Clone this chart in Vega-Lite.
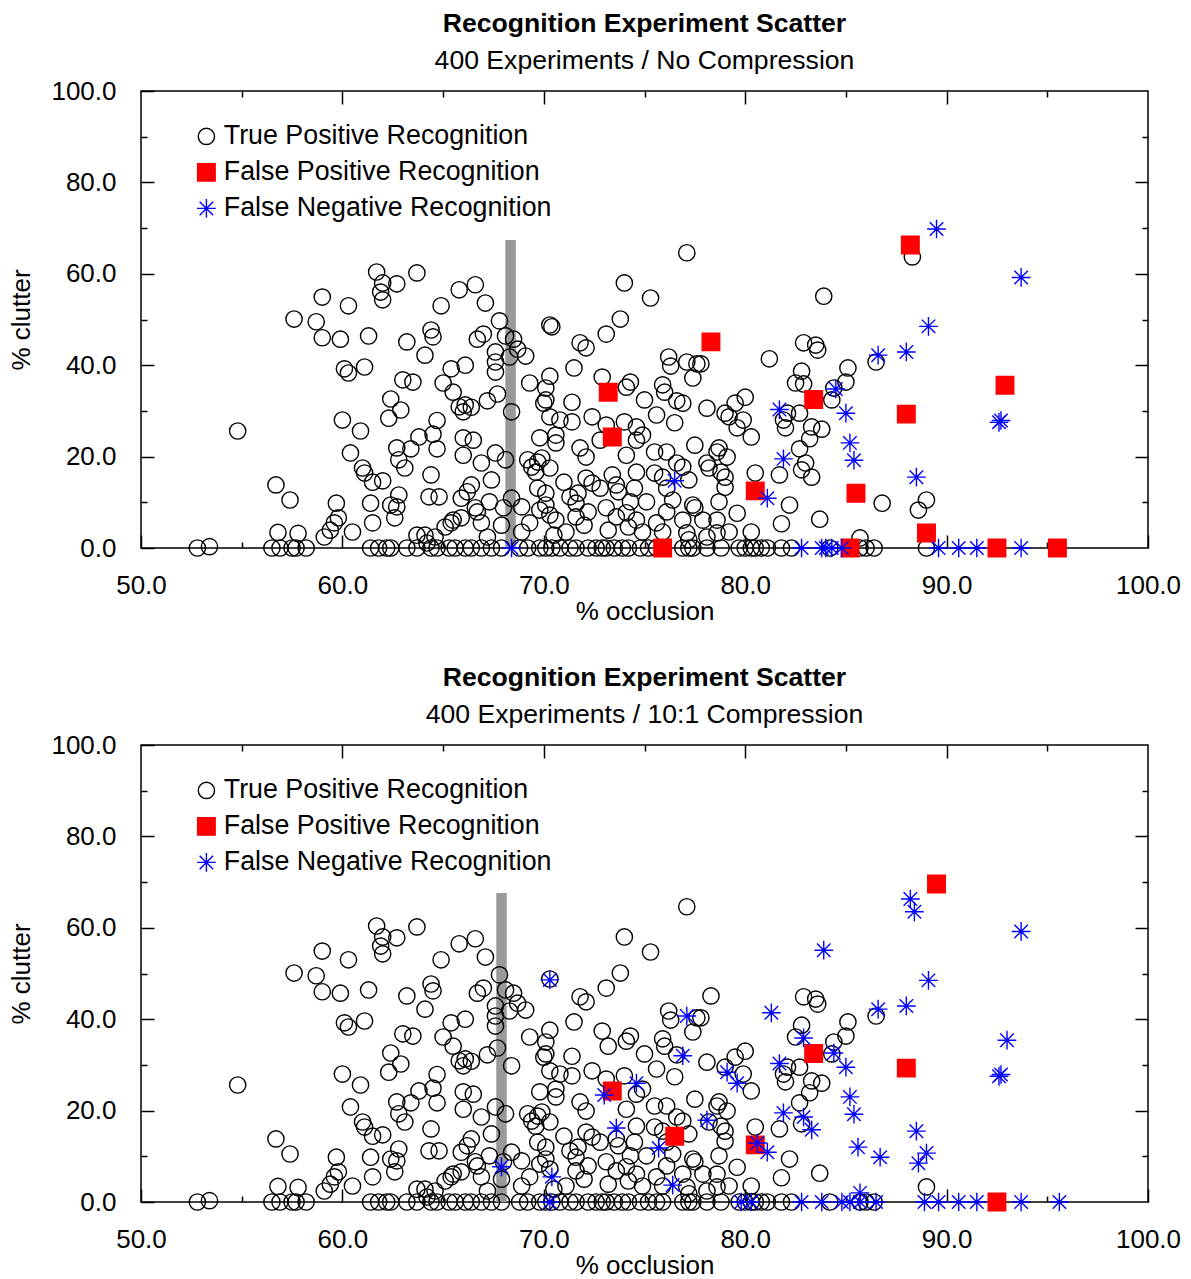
{
"$schema":"https://vega.github.io/schema/vega-lite/v6.json",
"padding":{"left":8,"top":10,"right":5,"bottom":0},
"background":"white",
"datasets":{
"bars":[{"p":"t","x":68.35,"y":0,"y2":67.4},{"p":"u","x":67.9,"y":0,"y2":67.6}],
"pts":[
{"x":52.8,"y":0,"t":"TP","p":"b"},{"x":53.4,"y":0.3,"t":"TP","p":"b"},{"x":54.8,"y":25.6,"t":"TP","p":"b"},{"x":56.7,"y":13.8,"t":"TP","p":"b"},{"x":57.4,"y":10.5,"t":"TP","p":"b"},{"x":56.8,"y":3.4,"t":"TP","p":"b"},{"x":57.8,"y":3.2,"t":"TP","p":"b"},{"x":56.5,"y":0,"t":"TP","p":"b"},{"x":56.9,"y":0,"t":"TP","p":"b"},{"x":57.5,"y":0,"t":"TP","p":"b"},{"x":57.7,"y":0,"t":"TP","p":"b"},{"x":58.2,"y":0,"t":"TP","p":"b"},
{"x":59.1,"y":2.4,"t":"TP","p":"b"},{"x":59.4,"y":3.9,"t":"TP","p":"b"},{"x":59.6,"y":5.5,"t":"TP","p":"b"},{"x":59.8,"y":6.6,"t":"TP","p":"b"},{"x":59.7,"y":9.8,"t":"TP","p":"b"},{"x":60.5,"y":3.5,"t":"TP","p":"b"},{"x":60.4,"y":20.8,"t":"TP","p":"b"},{"x":61.0,"y":17.5,"t":"TP","p":"b"},{"x":61.1,"y":16.4,"t":"TP","p":"b"},{"x":61.5,"y":14.4,"t":"TP","p":"b"},{"x":62.0,"y":14.7,"t":"TP","p":"b"},{"x":61.4,"y":9.8,"t":"TP","p":"b"},{"x":61.5,"y":5.5,"t":"TP","p":"b"},{"x":62.4,"y":9.4,"t":"TP","p":"b"},{"x":62.7,"y":9.0,"t":"TP","p":"b"},{"x":62.6,"y":6.6,"t":"TP","p":"b"},{"x":62.8,"y":11.6,"t":"TP","p":"b"},
{"x":62.7,"y":21.9,"t":"TP","p":"b"},{"x":63.4,"y":21.7,"t":"TP","p":"b"},{"x":62.8,"y":19.3,"t":"TP","p":"b"},{"x":63.1,"y":17.5,"t":"TP","p":"b"},{"x":63.8,"y":24.3,"t":"TP","p":"b"},{"x":64.5,"y":24.9,"t":"TP","p":"b"},{"x":64.7,"y":21.7,"t":"TP","p":"b"},{"x":64.4,"y":16.0,"t":"TP","p":"b"},{"x":64.3,"y":11.2,"t":"TP","p":"b"},{"x":64.8,"y":11.2,"t":"TP","p":"b"},{"x":63.7,"y":2.8,"t":"TP","p":"b"},{"x":64.1,"y":2.8,"t":"TP","p":"b"},{"x":64.6,"y":2.4,"t":"TP","p":"b"},{"x":65.1,"y":4.6,"t":"TP","p":"b"},{"x":65.5,"y":6.1,"t":"TP","p":"b"},
{"x":61.4,"y":0,"t":"TP","p":"b"},{"x":61.8,"y":0,"t":"TP","p":"b"},{"x":62.2,"y":0,"t":"TP","p":"b"},{"x":62.4,"y":0,"t":"TP","p":"b"},{"x":63.2,"y":0,"t":"TP","p":"b"},{"x":63.7,"y":0,"t":"TP","p":"b"},{"x":64.2,"y":1.1,"t":"TP","p":"b"},{"x":64.4,"y":0,"t":"TP","p":"b"},{"x":64.7,"y":0,"t":"TP","p":"b"},{"x":65.3,"y":0,"t":"TP","p":"b"},{"x":65.6,"y":0,"t":"TP","p":"b"},
{"x":60.0,"y":28.0,"t":"TP","p":"b"},{"x":60.9,"y":25.6,"t":"TP","p":"b"},{"x":62.3,"y":28.4,"t":"TP","p":"b"},{"x":62.9,"y":30.2,"t":"TP","p":"b"},{"x":64.7,"y":27.9,"t":"TP","p":"b"},{"x":65.8,"y":30.9,"t":"TP","p":"b"},
{"x":61.7,"y":60.4,"t":"TP","p":"b"},{"x":62.0,"y":58.0,"t":"TP","p":"b"},{"x":62.7,"y":57.8,"t":"TP","p":"b"},{"x":61.9,"y":56.0,"t":"TP","p":"b"},{"x":62.0,"y":54.3,"t":"TP","p":"b"},{"x":63.7,"y":60.2,"t":"TP","p":"b"},{"x":59.0,"y":54.9,"t":"TP","p":"b"},{"x":60.3,"y":53.0,"t":"TP","p":"b"},{"x":57.6,"y":50.1,"t":"TP","p":"b"},{"x":58.7,"y":49.5,"t":"TP","p":"b"},{"x":59.0,"y":46.0,"t":"TP","p":"b"},{"x":59.9,"y":45.7,"t":"TP","p":"b"},{"x":61.3,"y":46.4,"t":"TP","p":"b"},{"x":63.2,"y":45.1,"t":"TP","p":"b"},{"x":64.1,"y":42.2,"t":"TP","p":"b"},{"x":64.4,"y":47.7,"t":"TP","p":"b"},{"x":64.5,"y":46.2,"t":"TP","p":"b"},{"x":64.9,"y":53.0,"t":"TP","p":"b"},{"x":65.8,"y":56.5,"t":"TP","p":"b"},
{"x":60.1,"y":39.2,"t":"TP","p":"b"},{"x":60.3,"y":38.3,"t":"TP","p":"b"},{"x":61.1,"y":39.6,"t":"TP","p":"b"},{"x":63.0,"y":36.8,"t":"TP","p":"b"},{"x":63.5,"y":36.3,"t":"TP","p":"b"},{"x":65.4,"y":39.2,"t":"TP","p":"b"},{"x":65.0,"y":36.1,"t":"TP","p":"b"},{"x":65.5,"y":34.1,"t":"TP","p":"b"},{"x":62.4,"y":32.6,"t":"TP","p":"b"},
{"x":77.1,"y":64.6,"t":"TP","p":"b"},{"x":74.0,"y":58.0,"t":"TP","p":"b"},{"x":75.3,"y":54.7,"t":"TP","p":"b"},{"x":66.6,"y":57.6,"t":"TP","p":"b"},{"x":67.1,"y":53.6,"t":"TP","p":"b"},{"x":67.8,"y":49.7,"t":"TP","p":"b"},{"x":70.3,"y":48.8,"t":"TP","p":"b"},{"x":70.4,"y":48.4,"t":"TP","p":"t"},{"x":66.7,"y":45.7,"t":"TP","p":"b"},{"x":67.0,"y":46.8,"t":"TP","p":"b"},{"x":68.1,"y":46.4,"t":"TP","p":"b"},{"x":68.5,"y":45.7,"t":"TP","p":"b"},{"x":67.6,"y":42.9,"t":"TP","p":"b"},{"x":68.7,"y":43.5,"t":"TP","p":"b"},{"x":69.1,"y":42.0,"t":"TP","p":"b"},{"x":68.3,"y":41.8,"t":"TP","p":"b"},{"x":67.6,"y":40.7,"t":"TP","p":"b"},{"x":67.6,"y":38.5,"t":"TP","p":"b"},{"x":66.1,"y":40.0,"t":"TP","p":"b"},{"x":66.1,"y":31.3,"t":"TP","p":"b"},{"x":66.4,"y":30.8,"t":"TP","p":"b"},{"x":67.2,"y":32.2,"t":"TP","p":"b"},{"x":67.7,"y":33.7,"t":"TP","p":"b"},{"x":68.4,"y":29.8,"t":"TP","p":"b"},{"x":69.3,"y":36.1,"t":"TP","p":"b"},{"x":70.3,"y":37.6,"t":"TP","p":"b"},{"x":70.1,"y":35.0,"t":"TP","p":"b"},{"x":70.1,"y":32.4,"t":"TP","p":"b"},{"x":70.0,"y":31.7,"t":"TP","p":"b"},{"x":71.4,"y":31.9,"t":"TP","p":"b"},{"x":71.5,"y":39.4,"t":"TP","p":"b"},{"x":71.8,"y":44.9,"t":"TP","p":"b"},{"x":72.1,"y":43.8,"t":"TP","p":"b"},{"x":73.1,"y":46.8,"t":"TP","p":"b"},{"x":73.8,"y":50.1,"t":"TP","p":"b"},{"x":72.9,"y":37.4,"t":"TP","p":"b"},{"x":74.3,"y":36.3,"t":"TP","p":"b"},{"x":74.1,"y":35.2,"t":"TP","p":"b"},{"x":75.0,"y":32.4,"t":"TP","p":"b"},{"x":75.9,"y":35.7,"t":"TP","p":"b"},{"x":76.0,"y":34.1,"t":"TP","p":"b"},{"x":76.2,"y":41.8,"t":"TP","p":"b"},{"x":76.3,"y":39.8,"t":"TP","p":"b"},{"x":77.1,"y":40.7,"t":"TP","p":"t"},{"x":77.6,"y":40.3,"t":"TP","p":"b"},{"x":77.8,"y":40.3,"t":"TP","p":"b"},{"x":77.4,"y":37.2,"t":"TP","p":"b"},{"x":76.6,"y":32.2,"t":"TP","p":"b"},{"x":76.9,"y":31.7,"t":"TP","p":"t"},{"x":78.1,"y":30.6,"t":"TP","p":"b"},{"x":79.0,"y":29.5,"t":"TP","p":"b"},{"x":75.6,"y":29.1,"t":"TP","p":"b"},{"x":72.4,"y":28.7,"t":"TP","p":"b"},
{"x":66.0,"y":29.8,"t":"TP","p":"b"},{"x":70.3,"y":28.7,"t":"TP","p":"b"},{"x":70.8,"y":28.0,"t":"TP","p":"b"},{"x":71.4,"y":27.6,"t":"TP","p":"b"},{"x":73.1,"y":26.9,"t":"TP","p":"b"},{"x":74.0,"y":27.6,"t":"TP","p":"b"},{"x":74.6,"y":26.5,"t":"TP","p":"t"},{"x":76.5,"y":27.4,"t":"TP","p":"b"},{"x":66.0,"y":24.1,"t":"TP","p":"b"},{"x":66.5,"y":23.6,"t":"TP","p":"b"},{"x":69.8,"y":24.1,"t":"TP","p":"b"},{"x":70.6,"y":24.7,"t":"TP","p":"b"},{"x":70.6,"y":23.0,"t":"TP","p":"b"},{"x":71.8,"y":21.9,"t":"TP","p":"b"},{"x":72.1,"y":19.9,"t":"TP","p":"b"},{"x":72.8,"y":23.6,"t":"TP","p":"t"},{"x":74.6,"y":23.6,"t":"TP","p":"b"},{"x":74.9,"y":24.7,"t":"TP","p":"b"},{"x":74.1,"y":20.3,"t":"TP","p":"b"},{"x":77.5,"y":22.5,"t":"TP","p":"b"},{"x":78.6,"y":21.0,"t":"TP","p":"b"},{"x":78.7,"y":21.9,"t":"TP","p":"b"},{"x":75.5,"y":21.0,"t":"TP","p":"b"},{"x":76.1,"y":21.0,"t":"TP","p":"b"},{"x":76.6,"y":18.6,"t":"TP","p":"b"},{"x":76.9,"y":17.7,"t":"TP","p":"b"},{"x":78.1,"y":18.6,"t":"TP","p":"t"},{"x":78.2,"y":17.5,"t":"TP","p":"b"},{"x":79.1,"y":19.9,"t":"TP","p":"b"},{"x":79.0,"y":15.5,"t":"TP","p":"b"},
{"x":66.0,"y":20.3,"t":"TP","p":"b"},{"x":66.9,"y":18.6,"t":"TP","p":"b"},{"x":67.6,"y":20.8,"t":"TP","p":"b"},{"x":68.1,"y":19.3,"t":"TP","p":"b"},{"x":69.2,"y":19.3,"t":"TP","p":"b"},{"x":69.4,"y":17.7,"t":"TP","p":"b"},{"x":69.7,"y":18.8,"t":"TP","p":"b"},{"x":69.9,"y":19.7,"t":"TP","p":"b"},{"x":69.6,"y":16.6,"t":"TP","p":"b"},{"x":70.3,"y":17.5,"t":"TP","p":"b"},{"x":71.0,"y":14.4,"t":"TP","p":"b"},{"x":71.7,"y":12.0,"t":"TP","p":"b"},{"x":72.1,"y":15.3,"t":"TP","p":"b"},{"x":72.4,"y":14.2,"t":"TP","p":"b"},{"x":72.8,"y":13.1,"t":"TP","p":"b"},{"x":73.4,"y":16.0,"t":"TP","p":"t"},{"x":74.6,"y":16.6,"t":"TP","p":"b"},{"x":74.5,"y":13.1,"t":"TP","p":"b"},{"x":73.7,"y":12.3,"t":"TP","p":"b"},{"x":73.6,"y":13.8,"t":"TP","p":"b"},{"x":75.5,"y":16.4,"t":"TP","p":"b"},{"x":75.9,"y":15.5,"t":"TP","p":"b"},{"x":77.2,"y":14.9,"t":"TP","p":"b"},{"x":77.5,"y":8.8,"t":"TP","p":"b"},{"x":77.9,"y":6.1,"t":"TP","p":"b"},{"x":78.6,"y":6.1,"t":"TP","p":"b"},{"x":78.1,"y":2.4,"t":"TP","p":"b"},{"x":77.1,"y":3.3,"t":"TP","p":"b"},{"x":77.2,"y":1.8,"t":"TP","p":"b"},
{"x":66.4,"y":13.8,"t":"TP","p":"b"},{"x":66.2,"y":12.3,"t":"TP","p":"b"},{"x":65.9,"y":10.9,"t":"TP","p":"b"},{"x":67.4,"y":14.9,"t":"TP","p":"b"},{"x":67.3,"y":10.1,"t":"TP","p":"b"},{"x":66.6,"y":8.8,"t":"TP","p":"b"},{"x":66.7,"y":7.9,"t":"TP","p":"b"},{"x":65.9,"y":6.6,"t":"TP","p":"b"},{"x":65.4,"y":5.5,"t":"TP","p":"b"},{"x":66.9,"y":5.5,"t":"TP","p":"b"},{"x":68.0,"y":8.8,"t":"TP","p":"b"},{"x":68.4,"y":10.9,"t":"TP","p":"b"},{"x":67.9,"y":5.0,"t":"TP","p":"b"},{"x":67.2,"y":2.4,"t":"TP","p":"b"},
{"x":68.9,"y":9.0,"t":"TP","p":"b"},{"x":69.3,"y":5.5,"t":"TP","p":"b"},{"x":69.8,"y":8.3,"t":"TP","p":"b"},{"x":70.1,"y":9.4,"t":"TP","p":"b"},{"x":70.3,"y":7.2,"t":"TP","p":"b"},{"x":70.6,"y":6.1,"t":"TP","p":"t"},{"x":70.1,"y":12.0,"t":"TP","p":"b"},{"x":69.7,"y":13.1,"t":"TP","p":"b"},{"x":71.3,"y":11.2,"t":"TP","p":"b"},{"x":71.6,"y":9.8,"t":"TP","p":"b"},{"x":71.6,"y":6.8,"t":"TP","p":"b"},{"x":72.0,"y":5.0,"t":"TP","p":"b"},{"x":72.2,"y":7.9,"t":"TP","p":"b"},{"x":73.1,"y":8.8,"t":"TP","p":"b"},{"x":73.6,"y":6.8,"t":"TP","p":"b"},{"x":74.1,"y":7.7,"t":"TP","p":"b"},{"x":74.3,"y":10.1,"t":"TP","p":"b"},{"x":75.1,"y":10.1,"t":"TP","p":"b"},{"x":74.6,"y":6.1,"t":"TP","p":"b"},{"x":74.9,"y":3.5,"t":"TP","p":"b"},{"x":74.2,"y":4.6,"t":"TP","p":"b"},{"x":73.2,"y":3.9,"t":"TP","p":"b"},{"x":75.6,"y":5.5,"t":"TP","p":"b"},{"x":76.1,"y":7.9,"t":"TP","p":"b"},{"x":76.1,"y":13.1,"t":"TP","p":"b"},{"x":76.4,"y":10.5,"t":"TP","p":"b"},{"x":77.4,"y":9.4,"t":"TP","p":"b"},{"x":76.9,"y":6.1,"t":"TP","p":"b"},{"x":75.9,"y":3.5,"t":"TP","p":"b"},{"x":78.6,"y":3.3,"t":"TP","p":"b"},{"x":68.9,"y":3.5,"t":"TP","p":"b"},{"x":71.1,"y":3.5,"t":"TP","p":"b"},{"x":70.5,"y":2.8,"t":"TP","p":"b"},
{"x":66.1,"y":0,"t":"TP","p":"b"},{"x":66.4,"y":0,"t":"TP","p":"b"},{"x":66.9,"y":0,"t":"TP","p":"b"},{"x":67.4,"y":0,"t":"TP","p":"b"},{"x":67.9,"y":0,"t":"TP","p":"b"},{"x":68.8,"y":0,"t":"TP","p":"b"},{"x":69.2,"y":0,"t":"TP","p":"b"},{"x":69.8,"y":0,"t":"TP","p":"b"},{"x":70.1,"y":0,"t":"TP","p":"b"},{"x":70.4,"y":0,"t":"TP","p":"b"},{"x":70.8,"y":0,"t":"TP","p":"b"},{"x":71.3,"y":0,"t":"TP","p":"b"},{"x":71.6,"y":0,"t":"TP","p":"b"},{"x":72.2,"y":0,"t":"TP","p":"b"},{"x":72.6,"y":0,"t":"TP","p":"b"},{"x":72.9,"y":0,"t":"TP","p":"b"},{"x":73.1,"y":0,"t":"TP","p":"b"},{"x":73.5,"y":0,"t":"TP","p":"b"},{"x":73.9,"y":0,"t":"TP","p":"b"},{"x":74.2,"y":0,"t":"TP","p":"b"},{"x":74.8,"y":0,"t":"TP","p":"b"},{"x":75.2,"y":0,"t":"TP","p":"b"},{"x":75.6,"y":0,"t":"TP","p":"b"},{"x":76.9,"y":0,"t":"TP","p":"b"},{"x":77.2,"y":0,"t":"TP","p":"b"},{"x":77.4,"y":0,"t":"TP","p":"b"},{"x":78.1,"y":0,"t":"TP","p":"b"},{"x":78.8,"y":0,"t":"TP","p":"b"},
{"x":88.3,"y":63.7,"t":"TP","p":"t"},{"x":83.9,"y":55.1,"t":"TP","p":"t"},{"x":82.9,"y":44.9,"t":"TP","p":"b"},{"x":83.5,"y":44.4,"t":"TP","p":"b"},{"x":83.6,"y":43.3,"t":"TP","p":"b"},{"x":81.2,"y":41.4,"t":"TP","p":"t"},{"x":85.1,"y":39.4,"t":"TP","p":"b"},{"x":85.0,"y":36.3,"t":"TP","p":"b"},{"x":82.8,"y":38.7,"t":"TP","p":"b"},{"x":82.5,"y":36.1,"t":"TP","p":"b"},{"x":82.9,"y":35.9,"t":"TP","p":"t"},{"x":84.3,"y":32.4,"t":"TP","p":"b"},{"x":84.4,"y":35.0,"t":"TP","p":"b"},{"x":79.5,"y":31.7,"t":"TP","p":"b"},{"x":80.0,"y":33.0,"t":"TP","p":"b"},{"x":79.2,"y":28.7,"t":"TP","p":"t"},{"x":79.9,"y":28.0,"t":"TP","p":"b"},{"x":82.1,"y":29.5,"t":"TP","p":"b"},{"x":82.7,"y":29.5,"t":"TP","p":"b"},{"x":86.5,"y":40.7,"t":"TP","p":"b"},
{"x":79.6,"y":26.3,"t":"TP","p":"t"},{"x":80.3,"y":24.3,"t":"TP","p":"b"},{"x":81.9,"y":28.0,"t":"TP","p":"b"},{"x":82.0,"y":26.3,"t":"TP","p":"b"},{"x":83.3,"y":26.5,"t":"TP","p":"b"},{"x":83.8,"y":26.0,"t":"TP","p":"b"},{"x":83.2,"y":23.9,"t":"TP","p":"b"},{"x":82.7,"y":21.7,"t":"TP","p":"b"},{"x":83.0,"y":18.6,"t":"TP","p":"t"},{"x":82.8,"y":17.1,"t":"TP","p":"b"},{"x":83.3,"y":15.5,"t":"TP","p":"t"},{"x":81.7,"y":16.0,"t":"TP","p":"b"},{"x":80.5,"y":16.4,"t":"TP","p":"b"},{"x":78.8,"y":16.6,"t":"TP","p":"b"},{"x":79.0,"y":13.3,"t":"TP","p":"b"},{"x":78.7,"y":10.1,"t":"TP","p":"b"},{"x":79.6,"y":7.6,"t":"TP","p":"b"},{"x":79.2,"y":3.5,"t":"TP","p":"b"},{"x":80.3,"y":3.5,"t":"TP","p":"b"},{"x":81.8,"y":5.3,"t":"TP","p":"b"},{"x":82.2,"y":9.4,"t":"TP","p":"b"},{"x":83.7,"y":6.3,"t":"TP","p":"b"},{"x":85.7,"y":2.2,"t":"TP","p":"t"},{"x":86.8,"y":9.8,"t":"TP","p":"t"},{"x":88.6,"y":8.3,"t":"TP","p":"t"},{"x":89.0,"y":10.5,"t":"TP","p":"t"},{"x":89.0,"y":0,"t":"TP","p":"t"},
{"x":79.7,"y":0,"t":"TP","p":"b"},{"x":80.0,"y":0,"t":"TP","p":"b"},{"x":80.3,"y":0,"t":"TP","p":"b"},{"x":80.5,"y":0,"t":"TP","p":"b"},{"x":80.8,"y":0,"t":"TP","p":"b"},{"x":81.1,"y":0,"t":"TP","p":"b"},{"x":81.8,"y":0,"t":"TP","p":"b"},{"x":82.3,"y":0,"t":"TP","p":"b"},{"x":84.2,"y":0,"t":"TP","p":"b"},{"x":85.7,"y":0,"t":"TP","p":"b"},{"x":86.0,"y":0,"t":"TP","p":"b"},{"x":86.4,"y":0,"t":"TP","p":"b"},
{"x":73.2,"y":34.1,"t":"TP","p":"u"},{"x":78.3,"y":45.1,"t":"TP","p":"u"},{"x":89.0,"y":3.3,"t":"TP","p":"u"},{"x":75.9,"y":0,"t":"TP","p":"u"},
{"x":73.2,"y":34.1,"t":"FP","p":"t"},{"x":78.3,"y":45.1,"t":"FP","p":"t"},{"x":85.5,"y":12.0,"t":"FP","p":"t"},{"x":88.2,"y":66.3,"t":"FP","p":"t"},{"x":89.0,"y":3.3,"t":"FP","p":"t"},{"x":92.9,"y":35.6,"t":"FP","p":"t"},{"x":75.9,"y":0,"t":"FP","p":"t"},{"x":85.2,"y":0,"t":"FP","p":"t"},{"x":95.5,"y":0,"t":"FP","p":"t"},
{"x":73.4,"y":24.3,"t":"FP","p":"b"},{"x":80.5,"y":12.5,"t":"FP","p":"b"},{"x":83.4,"y":32.5,"t":"FP","p":"b"},{"x":88.0,"y":29.3,"t":"FP","p":"b"},{"x":92.5,"y":0,"t":"FP","p":"b"},
{"x":76.5,"y":14.4,"t":"FP","p":"u"},{"x":89.5,"y":69.6,"t":"FP","p":"u"},
{"x":68.4,"y":0,"t":"FN","p":"t"},{"x":76.5,"y":14.7,"t":"FN","p":"t"},{"x":89.5,"y":69.8,"t":"FN","p":"t"},{"x":84.5,"y":34.8,"t":"FN","p":"t"},{"x":84.0,"y":0,"t":"FN","p":"t"},{"x":84.3,"y":0,"t":"FN","p":"t"},
{"x":81.7,"y":30.3,"t":"FN","p":"b"},{"x":81.9,"y":19.5,"t":"FN","p":"b"},{"x":81.1,"y":10.9,"t":"FN","p":"b"},{"x":85.0,"y":29.5,"t":"FN","p":"b"},{"x":85.2,"y":23.0,"t":"FN","p":"b"},{"x":85.4,"y":19.2,"t":"FN","p":"b"},{"x":86.6,"y":42.2,"t":"FN","p":"b"},{"x":88.0,"y":42.9,"t":"FN","p":"b"},{"x":89.1,"y":48.5,"t":"FN","p":"b"},{"x":93.7,"y":59.2,"t":"FN","p":"b"},{"x":92.7,"y":27.9,"t":"FN","p":"b"},{"x":92.6,"y":27.5,"t":"FN","p":"b"},{"x":88.5,"y":15.5,"t":"FN","p":"b"},{"x":82.8,"y":0,"t":"FN","p":"b"},{"x":83.8,"y":0,"t":"FN","p":"b"},{"x":84.8,"y":0,"t":"FN","p":"b"},{"x":89.6,"y":0,"t":"FN","p":"b"},{"x":90.6,"y":0,"t":"FN","p":"b"},{"x":91.5,"y":0,"t":"FN","p":"b"},{"x":93.7,"y":0,"t":"FN","p":"b"},
{"x":70.3,"y":48.6,"t":"FN","p":"u"},{"x":77.1,"y":40.7,"t":"FN","p":"u"},{"x":76.9,"y":32.0,"t":"FN","p":"u"},{"x":79.1,"y":28.4,"t":"FN","p":"u"},{"x":79.6,"y":26.0,"t":"FN","p":"u"},{"x":74.6,"y":26.0,"t":"FN","p":"u"},{"x":73.0,"y":23.4,"t":"FN","p":"u"},{"x":73.6,"y":16.2,"t":"FN","p":"u"},{"x":75.7,"y":11.8,"t":"FN","p":"u"},{"x":78.1,"y":17.9,"t":"FN","p":"u"},{"x":80.6,"y":12.9,"t":"FN","p":"u"},{"x":67.9,"y":7.7,"t":"FN","p":"u"},{"x":70.4,"y":5.5,"t":"FN","p":"u"},{"x":76.4,"y":3.7,"t":"FN","p":"u"},{"x":70.3,"y":0,"t":"FN","p":"u"},{"x":79.8,"y":0,"t":"FN","p":"u"},{"x":80.3,"y":0,"t":"FN","p":"u"},{"x":88.2,"y":66.3,"t":"FN","p":"u"},{"x":88.4,"y":63.5,"t":"FN","p":"u"},{"x":83.9,"y":55.1,"t":"FN","p":"u"},{"x":81.3,"y":41.4,"t":"FN","p":"u"},{"x":82.9,"y":35.9,"t":"FN","p":"u"},{"x":84.4,"y":32.6,"t":"FN","p":"u"},{"x":93.0,"y":35.4,"t":"FN","p":"u"},{"x":82.9,"y":18.6,"t":"FN","p":"u"},{"x":83.3,"y":15.8,"t":"FN","p":"u"},{"x":85.6,"y":12.0,"t":"FN","p":"u"},{"x":86.7,"y":9.8,"t":"FN","p":"u"},{"x":89.0,"y":10.7,"t":"FN","p":"u"},{"x":88.6,"y":8.5,"t":"FN","p":"u"},{"x":85.7,"y":2.0,"t":"FN","p":"u"},{"x":85.2,"y":0,"t":"FN","p":"u"},{"x":85.7,"y":0,"t":"FN","p":"u"},{"x":86.5,"y":0,"t":"FN","p":"u"},{"x":88.9,"y":0,"t":"FN","p":"u"},{"x":95.6,"y":0,"t":"FN","p":"u"}
]},
"vconcat":[
{"width":1007,"height":457,
 "title":{"text":"Recognition Experiment Scatter","subtitle":"400 Experiments / No Compression"},
 "resolve":{"axis":{"x":"independent","y":"independent"}},
 "layer":[
  {"data":{"name":"bars"},"transform":[{"filter":"datum.p=='t'"}],
   "mark":{"type":"rule","color":"#999999","strokeWidth":10.5},
   "encoding":{
    "x":{"field":"x","type":"quantitative","scale":{"domain":[50,100],"nice":false,"zero":false},"axis":{"orient":"bottom","values":[50,60,70,80,90,100],"format":".1f","tickSize":-13,"labelPadding":37,"title":"% occlusion","titlePadding":0,"labelFlush":false,"labelOverlap":false}},
    "y":{"field":"y","type":"quantitative","scale":{"domain":[0,100],"nice":false},"axis":{"orient":"left","values":[0,20,40,60,80,100],"format":".1f","tickSize":-13,"labelPadding":38,"title":"% clutter","titlePadding":16,"labelFlush":false,"labelOverlap":false}},
    "y2":{"field":"y2"}}},
  {"data":{"name":"pts"},"transform":[{"filter":"datum.t=='TP' && datum.p!='u'"}],
   "mark":{"type":"point","opacity":1,"strokeWidth":1.4},
   "encoding":{
    "x":{"field":"x","type":"quantitative","scale":{"domain":[50,100],"nice":false,"zero":false},"axis":{"orient":"bottom","values":[55,65,75,85,95],"labels":false,"tickSize":-6,"title":null}},
    "y":{"field":"y","type":"quantitative","scale":{"domain":[0,100],"nice":false},"axis":{"orient":"left","values":[10,30,50,70,90],"labels":false,"tickSize":-6,"title":null}},
    "shape":{"field":"t","type":"nominal","scale":{"domain":["TP","FP","FN"],"range":["circle","square","M-1,0H1M0,-1V1M-0.72,-0.72L0.72,0.72M-0.72,0.72L0.72,-0.72"]},"legend":{"title":null,"orient":"none","legendX":52,"legendY":32,"labelExpr":"datum.label=='TP'?'True Positive Recognition':datum.label=='FP'?'False Positive Recognition':'False Negative Recognition'"}},
    "fill":{"field":"t","type":"nominal","scale":{"domain":["TP","FP","FN"],"range":["transparent","#ff0000","transparent"]},"legend":{"title":null,"orient":"none","legendX":52,"legendY":32,"labelExpr":"datum.label=='TP'?'True Positive Recognition':datum.label=='FP'?'False Positive Recognition':'False Negative Recognition'"}},
    "stroke":{"field":"t","type":"nominal","scale":{"domain":["TP","FP","FN"],"range":["#000000","#ff0000","#0000ff"]},"legend":{"title":null,"orient":"none","legendX":52,"legendY":32,"labelExpr":"datum.label=='TP'?'True Positive Recognition':datum.label=='FP'?'False Positive Recognition':'False Negative Recognition'"}},
    "size":{"field":"t","type":"nominal","scale":{"domain":["TP","FP","FN"],"range":[265,350,560]},"legend":{"title":null,"orient":"none","legendX":52,"legendY":32,"labelExpr":"datum.label=='TP'?'True Positive Recognition':datum.label=='FP'?'False Positive Recognition':'False Negative Recognition'"}}}},
  {"data":{"name":"pts"},"transform":[{"filter":"datum.t=='FP' && datum.p!='u'"}],
   "mark":{"type":"point","opacity":1,"strokeWidth":1.4},
   "encoding":{
    "x":{"field":"x","type":"quantitative","scale":{"domain":[50,100],"nice":false,"zero":false},"axis":{"orient":"top","values":[60,70,80,90],"labels":false,"tickSize":-13,"title":null}},
    "y":{"field":"y","type":"quantitative","scale":{"domain":[0,100],"nice":false},"axis":{"orient":"right","values":[20,40,60,80],"labels":false,"tickSize":-13,"title":null}},
    "shape":{"field":"t","type":"nominal"},
    "fill":{"field":"t","type":"nominal"},
    "stroke":{"field":"t","type":"nominal"},
    "size":{"field":"t","type":"nominal"}}},
  {"data":{"name":"pts"},"transform":[{"filter":"datum.t=='FN' && datum.p!='u'"}],
   "mark":{"type":"point","opacity":1,"strokeWidth":1.4},
   "encoding":{
    "x":{"field":"x","type":"quantitative","scale":{"domain":[50,100],"nice":false,"zero":false},"axis":{"orient":"top","values":[55,65,75,85,95],"labels":false,"tickSize":-6,"title":null}},
    "y":{"field":"y","type":"quantitative","scale":{"domain":[0,100],"nice":false},"axis":{"orient":"right","values":[10,30,50,70,90],"labels":false,"tickSize":-6,"title":null}},
    "shape":{"field":"t","type":"nominal"},
    "fill":{"field":"t","type":"nominal"},
    "stroke":{"field":"t","type":"nominal"},
    "size":{"field":"t","type":"nominal"}}}
 ]},
{"width":1007,"height":457,
 "title":{"text":"Recognition Experiment Scatter","subtitle":"400 Experiments / 10:1 Compression"},
 "resolve":{"axis":{"x":"independent","y":"independent"}},
 "layer":[
  {"data":{"name":"bars"},"transform":[{"filter":"datum.p=='u'"}],
   "mark":{"type":"rule","color":"#999999","strokeWidth":10.5},
   "encoding":{
    "x":{"field":"x","type":"quantitative","scale":{"domain":[50,100],"nice":false,"zero":false},"axis":{"orient":"bottom","values":[50,60,70,80,90,100],"format":".1f","tickSize":-13,"labelPadding":37,"title":"% occlusion","titlePadding":0,"labelFlush":false,"labelOverlap":false}},
    "y":{"field":"y","type":"quantitative","scale":{"domain":[0,100],"nice":false},"axis":{"orient":"left","values":[0,20,40,60,80,100],"format":".1f","tickSize":-13,"labelPadding":38,"title":"% clutter","titlePadding":16,"labelFlush":false,"labelOverlap":false}},
    "y2":{"field":"y2"}}},
  {"data":{"name":"pts"},"transform":[{"filter":"datum.t=='TP' && datum.p!='t'"}],
   "mark":{"type":"point","opacity":1,"strokeWidth":1.4},
   "encoding":{
    "x":{"field":"x","type":"quantitative","scale":{"domain":[50,100],"nice":false,"zero":false},"axis":{"orient":"bottom","values":[55,65,75,85,95],"labels":false,"tickSize":-6,"title":null}},
    "y":{"field":"y","type":"quantitative","scale":{"domain":[0,100],"nice":false},"axis":{"orient":"left","values":[10,30,50,70,90],"labels":false,"tickSize":-6,"title":null}},
    "shape":{"field":"t","type":"nominal","scale":{"domain":["TP","FP","FN"],"range":["circle","square","M-1,0H1M0,-1V1M-0.72,-0.72L0.72,0.72M-0.72,0.72L0.72,-0.72"]},"legend":{"title":null,"orient":"none","legendX":52,"legendY":32,"labelExpr":"datum.label=='TP'?'True Positive Recognition':datum.label=='FP'?'False Positive Recognition':'False Negative Recognition'"}},
    "fill":{"field":"t","type":"nominal","scale":{"domain":["TP","FP","FN"],"range":["transparent","#ff0000","transparent"]},"legend":{"title":null,"orient":"none","legendX":52,"legendY":32,"labelExpr":"datum.label=='TP'?'True Positive Recognition':datum.label=='FP'?'False Positive Recognition':'False Negative Recognition'"}},
    "stroke":{"field":"t","type":"nominal","scale":{"domain":["TP","FP","FN"],"range":["#000000","#ff0000","#0000ff"]},"legend":{"title":null,"orient":"none","legendX":52,"legendY":32,"labelExpr":"datum.label=='TP'?'True Positive Recognition':datum.label=='FP'?'False Positive Recognition':'False Negative Recognition'"}},
    "size":{"field":"t","type":"nominal","scale":{"domain":["TP","FP","FN"],"range":[265,350,560]},"legend":{"title":null,"orient":"none","legendX":52,"legendY":32,"labelExpr":"datum.label=='TP'?'True Positive Recognition':datum.label=='FP'?'False Positive Recognition':'False Negative Recognition'"}}}},
  {"data":{"name":"pts"},"transform":[{"filter":"datum.t=='FP' && datum.p!='t'"}],
   "mark":{"type":"point","opacity":1,"strokeWidth":1.4},
   "encoding":{
    "x":{"field":"x","type":"quantitative","scale":{"domain":[50,100],"nice":false,"zero":false},"axis":{"orient":"top","values":[60,70,80,90],"labels":false,"tickSize":-13,"title":null}},
    "y":{"field":"y","type":"quantitative","scale":{"domain":[0,100],"nice":false},"axis":{"orient":"right","values":[20,40,60,80],"labels":false,"tickSize":-13,"title":null}},
    "shape":{"field":"t","type":"nominal"},
    "fill":{"field":"t","type":"nominal"},
    "stroke":{"field":"t","type":"nominal"},
    "size":{"field":"t","type":"nominal"}}},
  {"data":{"name":"pts"},"transform":[{"filter":"datum.t=='FN' && datum.p!='t'"}],
   "mark":{"type":"point","opacity":1,"strokeWidth":1.4},
   "encoding":{
    "x":{"field":"x","type":"quantitative","scale":{"domain":[50,100],"nice":false,"zero":false},"axis":{"orient":"top","values":[55,65,75,85,95],"labels":false,"tickSize":-6,"title":null}},
    "y":{"field":"y","type":"quantitative","scale":{"domain":[0,100],"nice":false},"axis":{"orient":"right","values":[10,30,50,70,90],"labels":false,"tickSize":-6,"title":null}},
    "shape":{"field":"t","type":"nominal"},
    "fill":{"field":"t","type":"nominal"},
    "stroke":{"field":"t","type":"nominal"},
    "size":{"field":"t","type":"nominal"}}}
 ]}
],
"spacing":39,
"resolve":{"scale":{"shape":"independent","fill":"independent","stroke":"independent","size":"independent"},"legend":{"shape":"independent","fill":"independent","stroke":"independent","size":"independent"}},
"config":{
 "font":"Liberation Sans",
 "view":{"stroke":"#000000","strokeWidth":1.5},
 "axis":{"labelFontSize":26,"labelColor":"#000000","labelFont":"Liberation Sans","titleFont":"Liberation Sans","titleFontSize":26,"titleFontWeight":"normal","titleColor":"#000000","tickColor":"#000000","tickWidth":1.5,"domain":false,"grid":false,"minExtent":0},
 "title":{"font":"Liberation Sans","fontSize":26.6,"fontWeight":"bold","color":"#000000","subtitleFont":"Liberation Sans","subtitleFontSize":26.6,"subtitleColor":"#000000","anchor":"middle","frame":"group","offset":3,"subtitlePadding":10.5},
 "legend":{"labelFont":"Liberation Sans","labelFontSize":26.8,"labelColor":"#000000","labelOffset":4,"rowPadding":8,"symbolStrokeWidth":1.4,"padding":0,"labelLimit":0}
}
}
